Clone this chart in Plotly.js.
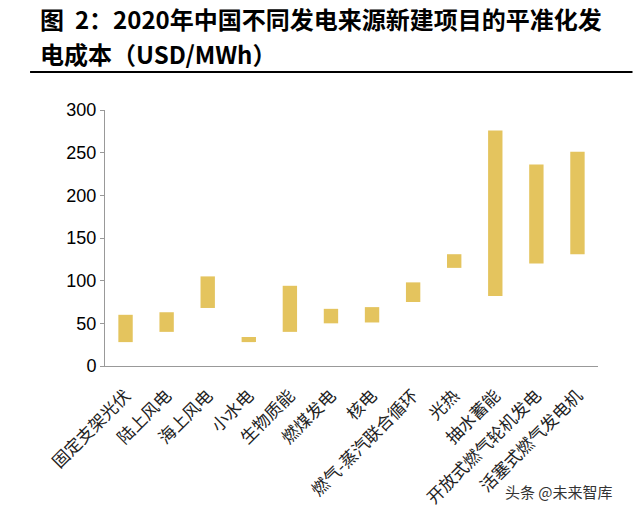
<!DOCTYPE html>
<html>
<head>
<meta charset="utf-8">
<script src="https://cdn.plot.ly/plotly-3.0.1.min.js"></script>
<style>
html,body{margin:0;padding:0;background:#fff;}
#chart{width:640px;height:522px;}
</style>
</head>
<body>
<div id="chart"></div>
<script>
const categories = ['固定支架光伏','陆上风电','海上风电','小水电','生物质能','燃煤发电','核电','燃气-蒸汽联合循环','光热','抽水蓄能','开放式燃气轮机发电','活塞式燃气发电机'];
const lowCost  = [28, 40, 68, 28, 40, 50, 51, 75, 115, 82, 120, 131];
const highCost = [60, 63, 105, 34, 94, 67, 69, 98, 131, 276, 236, 251];
const yTicks = [0, 50, 100, 150, 200, 250, 300];

const trace = {
  type: 'bar',
  x: categories,
  base: lowCost,
  y: highCost.map((h, i) => h - lowCost[i]),
  width: 0.35,
  marker: {color: '#E4C45E'},
  hoverinfo: 'x'
};

const layout = {
  width: 640, height: 522,
  margin: {l: 105, r: 42, t: 110, b: 156},
  paper_bgcolor: '#fff', plot_bgcolor: '#fff',
  showlegend: false,
  font: {family: 'Liberation Sans, Arial, sans-serif', color: '#000'},
  xaxis: {
    type: 'category',
    showline: true, linecolor: '#999', linewidth: 1,
    ticks: '', showgrid: false,
    tickangle: -45,
    ticklabelstandoff: 12,
    tickfont: {family: '"Noto Sans CJK SC", sans-serif', size: 17, color: '#222'}
  },
  yaxis: {
    range: [0, 300],
    tickvals: yTicks,
    showline: true, linecolor: '#999', linewidth: 1,
    ticks: 'outside', ticklen: 4, tickcolor: '#999',
    showgrid: false, zeroline: false,
    tickfont: {family: 'Liberation Sans, Arial, sans-serif', size: 18, color: '#000'}
  },
  shapes: [
    {type: 'line', xref: 'paper', yref: 'paper', x0: -0.152, x1: 1.07, y0: 1.148, y1: 1.148,
     line: {color: '#000', width: 2}}
  ],
  annotations: [
    {xref: 'paper', yref: 'paper', x: -0.136, y: 1.435, xanchor: 'left', yanchor: 'top', align: 'left',
     showarrow: false,
     text: '<b>图  2：2020年中国不同发电来源新建项目的平准化发</b>',
     font: {family: '"Noto Sans CJK SC", sans-serif', size: 24, color: '#000'}},
    {xref: 'paper', yref: 'paper', x: -0.136, y: 1.295, xanchor: 'left', yanchor: 'top', align: 'left',
     showarrow: false,
     text: '<b>电成本（USD/MWh）</b>',
     font: {family: '"Noto Sans CJK SC", sans-serif', size: 24, color: '#000'}},
    {xref: 'paper', yref: 'paper', x: 1.035, y: -0.49, xanchor: 'right', yanchor: 'middle',
     showarrow: false, text: '头条 @未来智库',
     font: {family: '"Noto Sans CJK SC", sans-serif', size: 15, color: '#333'}}
  ]
};

Plotly.newPlot('chart', [trace], layout, {displayModeBar: false, staticPlot: true});
</script>
</body>
</html>
